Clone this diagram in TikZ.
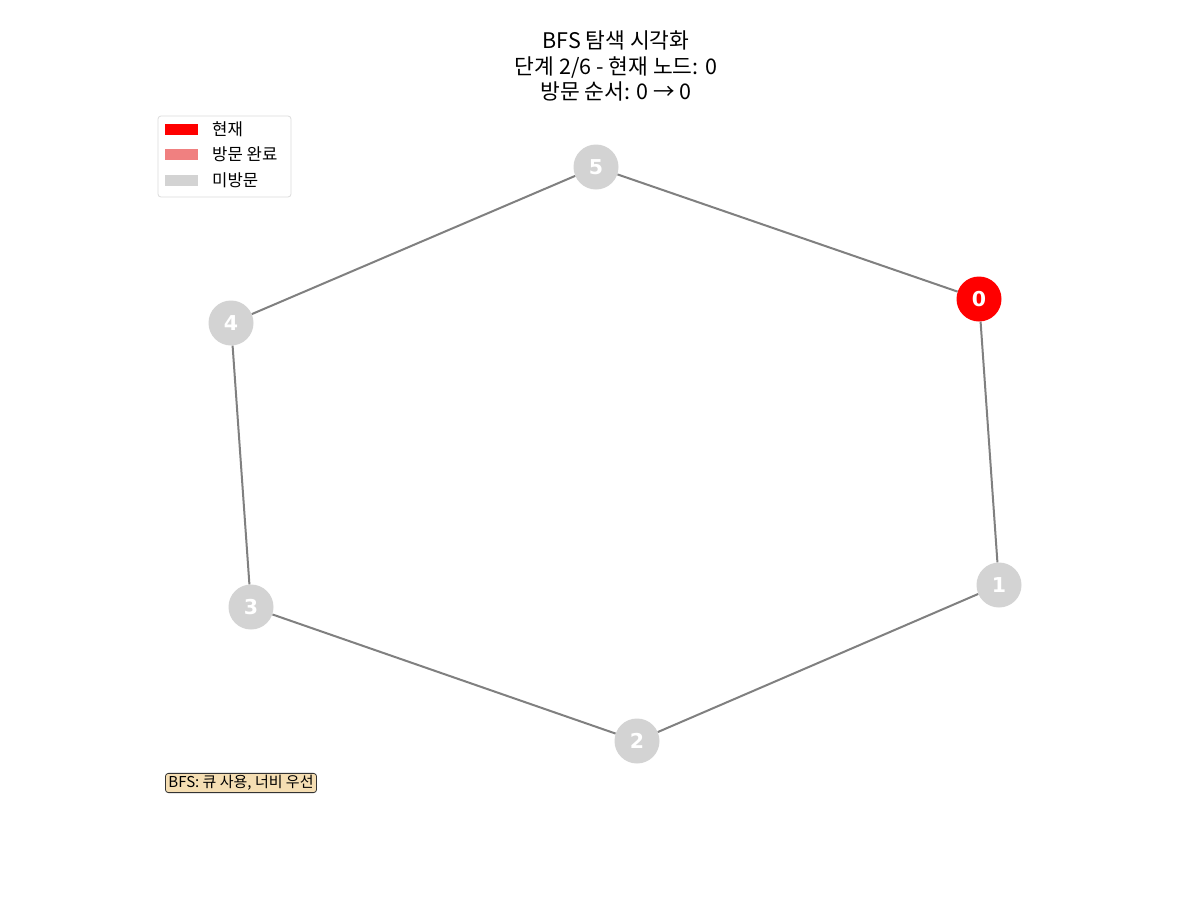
\documentclass[tikz,border=0pt]{standalone}
\usepackage{fontspec}
\setmainfont{Noto Sans CJK KR}
\newfontfamily\lblfont{DejaVu Sans}
\definecolor{lgray}{RGB}{211,211,211}
\definecolor{lcoral}{RGB}{240,128,128}
\definecolor{wheatc}{RGB}{245,222,179}
\definecolor{legedge}{RGB}{220,220,220}
\definecolor{edgegray}{RGB}{128,128,128}
\begin{document}
\begin{tikzpicture}[x=1pt,y=-1pt,
  vnode/.style={circle,minimum size=45pt,inner sep=0pt,font=\lblfont\bfseries\fontsize{20.5}{20.5}\selectfont,text=white},
  edge/.style={draw=edgegray,line width=2pt},
  legtext/.style={anchor=west,font=\fontsize{16.7}{16.7}\selectfont,inner sep=0pt}]
\useasboundingbox (0,0) rectangle (1200,900);
\fill[white] (0,0) rectangle (1200,900);
\node[font=\fontsize{21.5}{25.5}\selectfont,align=center] (title) at (616,66) {BFS 탐색 시각화\\단계 2/6 - 현재 노드: 0\\방문 순서: 0 → 0};
\node[vnode,fill=red] (n0) at (979,299) {0};
\node[vnode,fill=lgray] (n1) at (999,585) {1};
\node[vnode,fill=lgray] (n2) at (637,741) {2};
\node[vnode,fill=lgray] (n3) at (251,607) {3};
\node[vnode,fill=lgray] (n4) at (231,323) {4};
\node[vnode,fill=lgray] (n5) at (596,167) {5};
\draw[edge] (n0) -- (n1);
\draw[edge] (n1) -- (n2);
\draw[edge] (n2) -- (n3);
\draw[edge] (n3) -- (n4);
\draw[edge] (n4) -- (n5);
\draw[edge] (n5) -- (n0);
% legend
\draw[draw=legedge,fill=white,rounded corners=3pt,line width=0.8pt] (158,116) rectangle (291,197);
\fill[red] (165,124) rectangle (198,135);
\fill[lcoral] (165,149) rectangle (198,160);
\fill[lgray] (165,175) rectangle (198,186);
\node[legtext] (l1) at (212,129) {현재};
\node[legtext] (l2) at (212,154) {방문 완료};
\node[legtext] (l3) at (212,180) {미방문};
% info box
\node[draw=black!80,fill=wheatc,rounded corners=3pt,line width=0.8pt,inner xsep=3pt,inner ysep=2pt,font=\fontsize{15}{15}\selectfont] (info) at (241,783) {BFS: 큐 사용, 너비 우선};
\end{tikzpicture}
\end{document}
